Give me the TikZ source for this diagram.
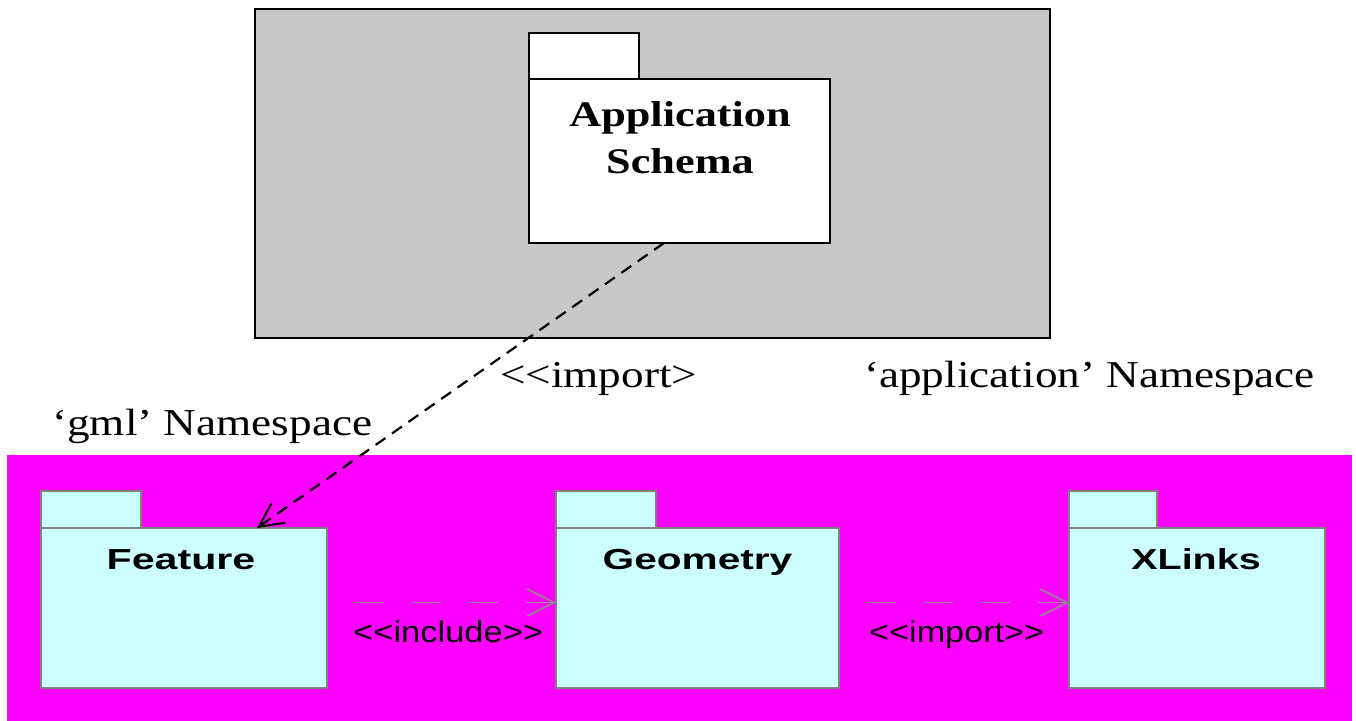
\documentclass[tikz,border=0pt]{standalone}
\usepackage{fontspec}
\usepackage{graphicx}
\setmainfont{Liberation Serif}
\newfontfamily\pkgsans{Liberation Sans}
\usetikzlibrary{arrows.meta,calc}

\definecolor{nsgray}{RGB}{200,200,200}
\definecolor{nsmagenta}{RGB}{255,0,255}
\definecolor{pkgcyan}{RGB}{204,255,255}
\definecolor{pkgedge}{RGB}{128,128,128}
\definecolor{depgray}{RGB}{140,140,140}

\begin{document}
\begin{tikzpicture}[x=1bp,y=-1bp,
  box/.style={rectangle, anchor=north west, inner sep=0pt, outer sep=0pt},
  apppkg/.style={box, draw=black, fill=white, line width=2bp},
  gmlpkg/.style={box, draw=pkgedge, fill=pkgcyan, line width=2bp},
  serifbold/.style={anchor=base, inner sep=0pt, font=\fontsize{36bp}{40bp}\selectfont\bfseries},
  seriflabel/.style={anchor=base west, inner sep=0pt, font=\fontsize{38bp}{42bp}\selectfont},
  pkgname/.style={anchor=base, inner sep=0pt, font=\pkgsans\fontsize{29bp}{32bp}\selectfont\bfseries},
  deplabel/.style={anchor=base west, inner sep=0pt, font=\pkgsans\fontsize{30bp}{32bp}\selectfont},
  imparrow/.style={draw=black, line width=2.2bp, dash pattern=on 12bp off 8bp,
    -{Straight Barb[length=24bp,width=24bp,line width=2bp]}},
  deparrow/.style={draw=depgray, line width=1.6bp, dash pattern=on 29bp off 28bp,
    -{Straight Barb[length=27bp,width=27bp,line width=1.6bp]}}
]
\useasboundingbox (0,0) rectangle (1356,720);

% namespaces
\fill[white] (0,0) rectangle (1356,720);
\node[box, draw=black, fill=nsgray, line width=2bp, minimum width=795bp, minimum height=329bp] (appns) at (255,9) {};
\node[box, fill=nsmagenta, minimum width=1345bp, minimum height=266bp] (gmlns) at (7,455) {};

% application schema package
\node[apppkg, minimum width=110bp, minimum height=46bp] (apptab) at (529,33) {};
\node[apppkg, minimum width=301bp, minimum height=164bp] (app) at (529,79) {};
\node[serifbold] (apptitle) at (680,127) {\scalebox{1.23}[1]{Application}};
\node[serifbold] (appsub) at (680,173) {\scalebox{1.23}[1]{Schema}};

% gml packages
\node[gmlpkg, minimum width=100bp, minimum height=37bp] (feattab) at (41,491) {};
\node[gmlpkg, minimum width=286bp, minimum height=160bp] (feat) at (41,528) {};
\node[pkgname] (featname) at ($(feat.north)+(-3,41)$) {\scalebox{1.42}[1]{Feature}};

\node[gmlpkg, minimum width=100bp, minimum height=37bp] (geotab) at (556,491) {};
\node[gmlpkg, minimum width=283bp, minimum height=160bp] (geo) at (556,528) {};
\node[pkgname] (geoname) at ($(geo.north)+(0,41)$) {\scalebox{1.40}[1]{Geometry}};

\node[gmlpkg, minimum width=88bp, minimum height=37bp] (xltab) at (1069,491) {};
\node[gmlpkg, minimum width=256bp, minimum height=160bp] (xl) at (1069,528) {};
\node[pkgname] (xlname) at ($(xl.north)+(-1,41)$) {\scalebox{1.36}[1]{XLinks}};

% namespace labels
\node[seriflabel] (applabel) at (864,387) {\scalebox{1.19}[1]{‘application’ Namespace}};
\node[seriflabel] (gmllabel) at (52,435) {\scalebox{1.19}[1]{‘gml’ Namespace}};
\node[seriflabel] (implabel) at (500,387) {\scalebox{1.19}[1]{{<}{<}import{>}}};

% dependencies
\draw[imparrow] ($(app.south west)+(135,0)$) -- ($(feat.north west)+(216,0)$);
\draw[deparrow] ($(feat.east)+(28,-5.5)$) -- ($(geo.west)+(0,-5.5)$);
\draw[deparrow] ($(geo.east)+(28,-5.5)$) -- ($(xl.west)+(0,-5.5)$);
\node[deplabel] (inclabel) at (353,642) {\scalebox{1.15}[1]{{<}{<}include{>}{>}}};
\node[deplabel] (implabel2) at (869,642) {\scalebox{1.14}[1]{{<}{<}import{>}{>}}};
\end{tikzpicture}
\end{document}
